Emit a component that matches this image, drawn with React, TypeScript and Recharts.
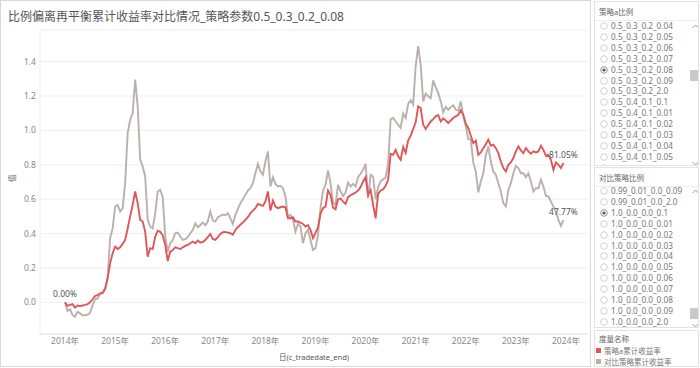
import React from 'react';
import { LineChart, Line, XAxis, YAxis, CartesianGrid, LabelList } from 'recharts';

const RED = '#e15759';
const GRAY = '#bab0ac';
const FONT = '"Noto Sans", "Noto Sans CJK SC", sans-serif';

// 策略a累计收益率, one reading every 1/20 year from 2014
const strategyA = [
  0.0, -0.02, -0.015, -0.01, -0.03, -0.018, -0.022, -0.018, -0.015, -0.01,
  0.0, 0.018, 0.037, 0.043, 0.052, 0.056, 0.08, 0.14, 0.227, 0.285,
  0.324, 0.31, 0.32, 0.34, 0.363, 0.43, 0.5, 0.567, 0.645, 0.577,
  0.48, 0.47, 0.41, 0.266, 0.315, 0.31, 0.383, 0.417, 0.41, 0.39,
  0.334, 0.24, 0.295, 0.305, 0.32, 0.315, 0.31, 0.32, 0.328, 0.334,
  0.344, 0.353, 0.344, 0.359, 0.348, 0.351, 0.363, 0.379, 0.398, 0.369,
  0.363, 0.379, 0.398, 0.408, 0.41, 0.406, 0.402, 0.394, 0.421, 0.437,
  0.452, 0.464, 0.48, 0.495, 0.518, 0.534, 0.548, 0.573, 0.567, 0.561,
  0.586, 0.645, 0.534, 0.592, 0.557, 0.548, 0.553, 0.557, 0.553, 0.489,
  0.489, 0.495, 0.47, 0.47, 0.464, 0.456, 0.441, 0.449, 0.421, 0.373,
  0.404, 0.437, 0.515, 0.548, 0.557, 0.65, 0.625, 0.551, 0.542, 0.6,
  0.604, 0.586, 0.573, 0.612, 0.623, 0.631, 0.639, 0.65, 0.67, 0.703,
  0.728, 0.625, 0.654, 0.567, 0.489, 0.631, 0.65, 0.658, 0.678, 0.713,
  0.864, 0.858, 0.887, 0.849, 0.829, 0.903, 0.868, 0.942, 0.969, 1.008,
  1.047, 1.14, 1.13, 1.033, 1.008, 1.031, 1.052, 1.066, 1.082, 1.089,
  1.052, 1.07, 1.058, 1.043, 1.058, 1.072, 1.082, 1.091, 1.117, 1.091,
  1.039, 1.014, 0.969, 0.926, 0.94, 0.858, 0.872, 0.897, 0.92, 0.946,
  0.911, 0.917, 0.897, 0.868, 0.819, 0.781, 0.761, 0.8, 0.814, 0.839,
  0.878, 0.907, 0.884, 0.868, 0.897, 0.878, 0.864, 0.878, 0.872, 0.878,
  0.911, 0.887, 0.852, 0.858, 0.829, 0.771, 0.814, 0.8, 0.781, 0.8105,
];

// 对比策略累计收益率
const compareStrategy = [
  0.0, -0.05, -0.04, -0.074, -0.083, -0.055, -0.064, -0.076, -0.074, -0.072,
  -0.06, -0.016, 0.017, 0.023, 0.049, 0.052, 0.076, 0.14, 0.373, 0.43,
  0.557, 0.567, 0.528, 0.548, 0.693, 0.984, 1.062, 1.1, 1.295, 1.14,
  0.83, 0.79, 0.732, 0.48, 0.44, 0.43, 0.518, 0.645, 0.654, 0.615,
  0.383, 0.295, 0.344, 0.363, 0.402, 0.406, 0.383, 0.363, 0.367, 0.379,
  0.402, 0.421, 0.46, 0.437, 0.45, 0.464, 0.449, 0.47, 0.528, 0.476,
  0.47, 0.495, 0.503, 0.511, 0.507, 0.518, 0.489, 0.456, 0.509, 0.542,
  0.577, 0.6, 0.625, 0.65, 0.664, 0.693, 0.751, 0.806, 0.761, 0.742,
  0.819, 0.878, 0.674, 0.728, 0.689, 0.674, 0.678, 0.664, 0.616, 0.499,
  0.509, 0.48, 0.412, 0.456, 0.441, 0.344, 0.402, 0.421, 0.363, 0.305,
  0.315, 0.392, 0.548, 0.65, 0.683, 0.767, 0.693, 0.583, 0.567, 0.683,
  0.645, 0.619, 0.639, 0.697, 0.674, 0.689, 0.674, 0.728, 0.748, 0.771,
  0.806, 0.606, 0.742, 0.732, 0.6, 0.67, 0.703, 0.716, 0.726, 0.806,
  1.066, 1.072, 1.052, 1.033, 1.014, 1.097, 1.072, 1.155, 1.175, 1.15,
  1.373, 1.49, 1.38, 1.169, 1.214, 1.198, 1.188, 1.291, 1.252, 1.217,
  1.169, 1.105, 1.136, 1.12, 1.136, 1.146, 1.12, 1.115, 1.169, 1.085,
  1.023, 0.95, 0.946, 0.814, 0.761, 0.639, 0.703, 0.751, 0.858, 0.907,
  0.819, 0.761, 0.742, 0.693, 0.645, 0.577, 0.557, 0.654, 0.693, 0.751,
  0.794, 0.781, 0.751, 0.751, 0.728, 0.751, 0.703, 0.645, 0.664, 0.664,
  0.713, 0.674, 0.619, 0.616, 0.586, 0.557, 0.528, 0.48, 0.445, 0.4777,
];

const yearTicks = [2014, 2015, 2016, 2017, 2018, 2019, 2020, 2021, 2022, 2023, 2024];
const valueTicks = [0, 0.2, 0.4, 0.6, 0.8, 1.0, 1.2, 1.4];

const ratioAOptions = [
  '0.5_0.3_0.2_0.04', '0.5_0.3_0.2_0.05', '0.5_0.3_0.2_0.06', '0.5_0.3_0.2_0.07',
  '0.5_0.3_0.2_0.08', '0.5_0.3_0.2_0.09', '0.5_0.3_0.2_2.0', '0.5_0.4_0.1_0.1',
  '0.5_0.4_0.1_0.01', '0.5_0.4_0.1_0.02', '0.5_0.4_0.1_0.03', '0.5_0.4_0.1_0.04',
  '0.5_0.4_0.1_0.05',
];
const compareOptions = [
  '0.99_0.01_0.0_0.09', '0.99_0.01_0.0_2.0', '1.0_0.0_0.0_0.1', '1.0_0.0_0.0_0.01',
  '1.0_0.0_0.0_0.02', '1.0_0.0_0.0_0.03', '1.0_0.0_0.0_0.04', '1.0_0.0_0.0_0.05',
  '1.0_0.0_0.0_0.06', '1.0_0.0_0.0_0.07', '1.0_0.0_0.0_0.08', '1.0_0.0_0.0_0.09',
  '1.0_0.0_0.0_2.0',
];

const data = strategyA.map((a, i) => ({
  t: 2014 + i / 20,
  a,
  b: compareStrategy[i],
}));
const LAST = data.length - 1;

const pct = (v: number) => `${(v * 100).toFixed(2)}%`;

function EndLabel(props: any, withFirst: boolean) {
  const { x, y, index, value } = props;
  if (index !== LAST && !(withFirst && index === 0)) return null;
  return (
    <text x={x} y={y - 5} textAnchor="middle" fontSize={8.5} fill="#555">
      {pct(Number(value))}
    </text>
  );
}

function Chevron({ x, y, up }: { x: number; y: number; up: boolean }) {
  return (
    <svg style={{ position: 'absolute', left: x - 3, top: y - 2 }} width={7} height={5}>
      <polyline
        points={up ? '0.5,4 3.5,1 6.5,4' : '0.5,1 3.5,4 6.5,1'}
        fill="none"
        stroke="#999"
        strokeWidth={1}
      />
    </svg>
  );
}

function Radio({ on }: { on: boolean }) {
  return (
    <svg style={{ position: 'absolute', left: 5, top: 1 }} width={8} height={8}>
      <circle cx={4} cy={4} r={3.3} fill="#fff" stroke={on ? '#8a8a8a' : '#cccccc'} strokeWidth={0.9} />
      {on && <circle cx={4} cy={4} r={1.6} fill="#555" />}
    </svg>
  );
}

function FilterPanel({
  top, height, title, items, selected, firstY, thumbTop, peek,
}: {
  top: number; height: number; title: string; items: string[];
  selected: string; firstY: number; thumbTop: number; peek?: boolean;
}) {
  return (
    <div
      style={{
        position: 'absolute', left: 594, top, width: 105, height,
        border: '1px solid #e3e3e3', boxSizing: 'border-box', overflow: 'hidden',
      }}
    >
      <div style={{ position: 'absolute', left: 4, top: 5, fontSize: 7.5, color: '#666', lineHeight: '10px' }}>
        {title}
      </div>
      <div style={{ position: 'absolute', left: 0, right: 0, top: 18, height: 1, background: '#eeeeee' }} />
      {items.map((it, k) => {
        const cy = firstY - top + k * 10.9;
        return (
          <div key={it} style={{ position: 'absolute', left: 0, top: cy - 5, height: 10, width: 95 }}>
            <Radio on={it === selected} />
            <div style={{ position: 'absolute', left: 16, top: 0, fontSize: 8.2, lineHeight: '10px', color: '#777', whiteSpace: 'nowrap' }}>
              {it}
            </div>
          </div>
        );
      })}
      {peek && (
        <div style={{ position: 'absolute', left: 0, top: firstY - top + items.length * 10.9 - 5, height: 10, width: 20 }}>
          <Radio on={false} />
        </div>
      )}
      <Chevron x={100} y={firstY - top} up />
      <div style={{ position: 'absolute', left: 95, top: thumbTop - top, width: 8, height: 11, background: '#c9c9c9' }} />
      <Chevron x={100} y={height - 4} up={false} />
    </div>
  );
}

export default function App() {
  return (
    <div style={{ position: 'absolute', left: 0, top: 0, width: 700, height: 368, background: '#fff', fontFamily: FONT, overflow: 'hidden' }}>
      <div style={{ position: 'absolute', left: 0, top: 0, width: 591, height: 367, border: '1px solid #d8d8d8', boxSizing: 'border-box' }} />
      <div style={{ position: 'absolute', left: 8, top: 9, fontSize: 12, lineHeight: '16px', color: '#555', whiteSpace: 'nowrap' }}>
        比例偏离再平衡累计收益率对比情况_策略参数0.5_0.3_0.2_0.08
      </div>
      <div style={{ position: 'absolute', left: 0, top: 0 }}>
        <LineChart width={590} height={368} data={data} margin={{ top: 30, right: 2, bottom: 0, left: 10 }}>
          <CartesianGrid horizontal vertical={false} stroke="#efefef" />
          <XAxis
            dataKey="t"
            type="number"
            domain={[2013.5, 2024.44]}
            ticks={yearTicks}
            tickFormatter={(v: number) => `${v}年`}
            allowDataOverflow
            height={34}
            tickLine={false}
            tickSize={4}
            tickMargin={0}
            axisLine={{ stroke: '#e2e2e2' }}
            tick={{ fontSize: 8.5, fill: '#888' }}
            label={{ value: '日(c_tradedate_end)', position: 'insideBottom', offset: 8, fontSize: 7.5, fill: '#555' }}
          />
          <YAxis
            type="number"
            domain={[-0.184, 1.584]}
            ticks={valueTicks}
            tickFormatter={(v: number) => v.toFixed(1)}
            allowDataOverflow
            width={30}
            tickLine={false}
            tickSize={4}
            tickMargin={0}
            axisLine={{ stroke: '#eeeeee' }}
            tick={{ fontSize: 8.5, fill: '#888' }}
            label={{ value: '值', angle: -90, position: 'insideLeft', offset: 2, fontSize: 7.5, fill: '#666' }}
          />
          <Line type="linear" dataKey="b" stroke={GRAY} strokeWidth={1.9} dot={false} isAnimationActive={false}>
            <LabelList dataKey="b" content={(p: any) => EndLabel(p, false)} />
          </Line>
          <Line type="linear" dataKey="a" stroke={RED} strokeWidth={1.9} dot={false} isAnimationActive={false}>
            <LabelList dataKey="a" content={(p: any) => EndLabel(p, true)} />
          </Line>
        </LineChart>
      </div>

      <FilterPanel top={1} height={165} title="策略a比例" items={ratioAOptions} selected="0.5_0.3_0.2_0.08" firstY={25} thumbTop={69} peek />
      <FilterPanel top={167} height={161} title="对比策略比例" items={compareOptions} selected="1.0_0.0_0.0_0.1" firstY={190} thumbTop={307} />

      <div style={{ position: 'absolute', left: 594, top: 330, width: 105, height: 37, border: '1px solid #e3e3e3', boxSizing: 'border-box' }}>
        <div style={{ position: 'absolute', left: 4, top: 3, fontSize: 7.5, lineHeight: '10px', color: '#666' }}>度量名称</div>
        <div style={{ position: 'absolute', left: 1, top: 17, width: 5, height: 5, background: RED }} />
        <div style={{ position: 'absolute', left: 9, top: 15, fontSize: 7.5, lineHeight: '10px', color: '#777', whiteSpace: 'nowrap' }}>策略a累计收益率</div>
        <div style={{ position: 'absolute', left: 1, top: 28, width: 5, height: 5, background: GRAY }} />
        <div style={{ position: 'absolute', left: 9, top: 26, fontSize: 7.5, lineHeight: '10px', color: '#777', whiteSpace: 'nowrap' }}>对比策略累计收益率</div>
      </div>
    </div>
  );
}
